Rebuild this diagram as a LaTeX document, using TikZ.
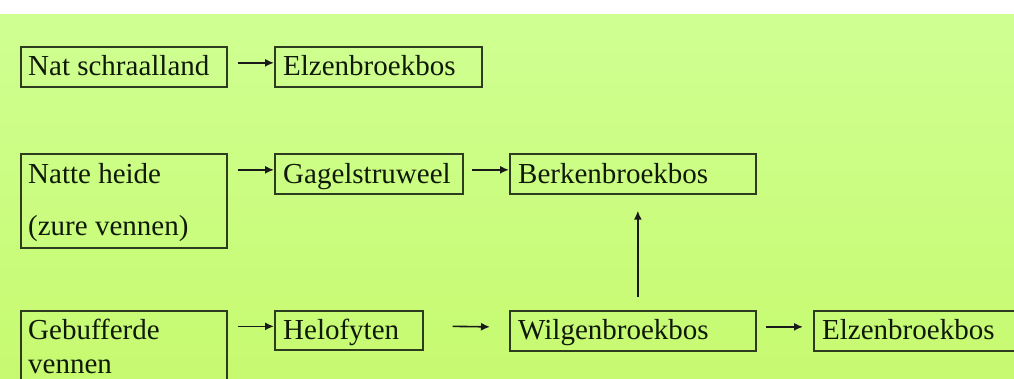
\documentclass[tikz,border=0pt]{standalone}
\usepackage{fontspec}
\setmainfont{Liberation Serif}
\usetikzlibrary{arrows.meta,calc}
\definecolor{bgtop}{RGB}{207,255,146}
\definecolor{bgbot}{RGB}{199,250,112}
\definecolor{boxc}{RGB}{45,60,30}
\definecolor{txtc}{RGB}{15,25,8}
\begin{document}
\begin{tikzpicture}[x=1pt,y=-1pt,
 box/.style={draw=boxc, line width=1.7pt, anchor=north west, inner sep=0pt},
 lbl/.style={anchor=base west, inner sep=0pt, text=txtc, font=\fontsize{29}{34}\selectfont},
 arr/.style={draw=black!90, line width=1.6pt, -{Latex[length=9pt,width=8pt]}}]
\useasboundingbox (0,0) rectangle (1014,378);
\clip (0,0) rectangle (1014,378);
\fill[white] (0,0) rectangle (1014,14);
\shade[top color=bgtop,bottom color=bgbot] (0,14) rectangle (1014,378);
% boxes
\node[box, minimum width=206pt, minimum height=40pt] (a) at (20,46) {};
\node[box, minimum width=207pt, minimum height=40pt] (b) at (274,46) {};
\node[box, minimum width=206pt, minimum height=94pt] (c) at (20,153) {};
\node[box, minimum width=188pt, minimum height=40pt] (d) at (274,153) {};
\node[box, minimum width=246pt, minimum height=40pt] (e) at (509,153) {};
\node[box, minimum width=206pt, minimum height=100pt] (f) at (20,310) {};
\node[box, minimum width=148pt, minimum height=39pt] (g) at (274,310) {};
\node[box, minimum width=246pt, minimum height=40pt] (h) at (509,310) {};
\node[box, minimum width=230pt, minimum height=40pt] (i) at (813,310) {};
% labels
\node[lbl] (ta) at (28,75) {Nat schraalland};
\node[lbl] (tb) at (283,75) {Elzenbroekbos};
\node[lbl] (tc1) at (28,183) {Natte heide};
\node[lbl] (tc2) at (28,235) {(zure vennen)};
\node[lbl] (td) at (283,183) {Gagelstruweel};
\node[lbl] (te) at (518,183) {Berkenbroekbos};
\node[lbl] (tf1) at (28,339) {Gebufferde};
\node[lbl] (tf2) at (28,373) {vennen};
\node[lbl] (tg) at (283,339) {Helofyten};
\node[lbl] (th) at (518,339) {Wilgenbroekbos};
\node[lbl] (ti) at (822,339) {Elzenbroekbos};
% arrows
\draw[arr] ($(a.east)+(10,-4)$) -- ($(b.west)+(0,-4)$);
\draw[arr] ($(c.east |- d.east)+(10,-4)$) -- ($(d.west)+(0,-4)$);
\draw[arr] ($(d.east)+(8,-4)$) -- ($(e.west)+(0,-4)$);
\draw[arr] ($(f.east |- g.east)+(10,-4)$) -- ($(g.west)+(0,-4)$);
\draw[arr] ($(g.east)+(29,-4)$) -- ($(h.west)+(-19,-4)$);
\draw[arr] ($(h.north)+(5,-13)$) -- ($(e.south)+(5,16)$);
\draw[arr] ($(h.east)+(9,-4)$) -- ($(i.west)+(-10,-4)$);
\end{tikzpicture}
\end{document}
